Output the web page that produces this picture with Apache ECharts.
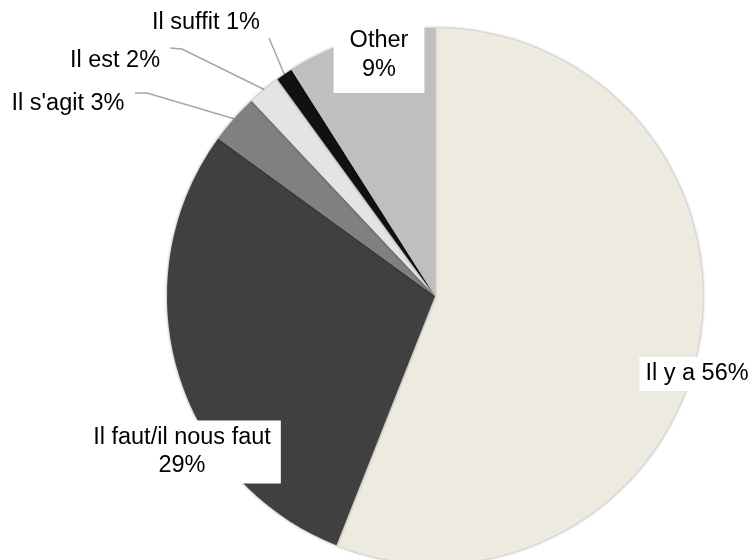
<!DOCTYPE html>
<html>
<head>
<meta charset="utf-8">
<script src="https://cdn.jsdelivr.net/npm/echarts@6/dist/echarts.min.js"></script>
<style>
  html, body { margin: 0; padding: 0; background: #ffffff; }
  #chart { width: 754px; height: 560px; }
</style>
</head>
<body>
<div id="chart"></div>
<script>
// Share of each construction (percent)
const categories = ['Il y a', 'Il faut/il nous faut', "Il s'agit", 'Il est', 'Il suffit', 'Other'];
const shares = [56, 29, 3, 2, 1, 9];
const sliceColors = ['#EDEAE0', '#404040', '#808080', '#E4E4E4', '#111111', '#BFBFBF'];

// Label box centres and leader-line elbows (canvas pixels)
const labelSpots = [
  { x: 697, y: 374 },
  { x: 182, y: 452 },
  { x: 68, y: 104 },
  { x: 115, y: 61 },
  { x: 206, y: 23 },
  { x: 379, y: 55 }
];
const leaderElbows = [null, null, [[147, 93], [135, 93]], [[182, 49], [170, 48]], [[269, 38]], null];

const boxedLabels = {
  0: { formatter: '{b} {d}%', backgroundColor: '#ffffff', padding: [5, 6, 5, 6] },
  1: { formatter: '{b}\n{d}%', backgroundColor: '#ffffff', padding: [4, 10, 3, 10], lineHeight: 28 },
  5: { formatter: '{b}\n{d}%', backgroundColor: '#ffffff', padding: [6, 16, 12, 16], lineHeight: 29 }
};

const pieData = categories.map(function (name, i) {
  const item = {
    name: name,
    value: shares[i],
    itemStyle: { color: sliceColors[i] },
    labelLine: { show: !!leaderElbows[i] }
  };
  if (boxedLabels[i]) item.label = boxedLabels[i];
  return item;
});

const chart = echarts.init(document.getElementById('chart'), null, { renderer: 'canvas' });
chart.setOption({
  animation: false,
  backgroundColor: '#ffffff',
  series: [{
    type: 'pie',
    center: [435, 296],
    radius: 268,
    startAngle: 90,
    clockwise: true,
    percentPrecision: 0,
    avoidLabelOverlap: false,
    emphasis: { disabled: true },
    itemStyle: {
      borderWidth: 0,
      shadowBlur: 3,
      shadowColor: 'rgba(0,0,0,0.45)',
      shadowOffsetX: 0,
      shadowOffsetY: 0
    },
    label: {
      show: true,
      position: 'outside',
      formatter: '{b} {d}%',
      color: '#000000',
      fontFamily: '"Liberation Sans", Arial, sans-serif',
      fontSize: 23.5,
      align: 'center'
    },
    labelLine: {
      show: true,
      lineStyle: { color: '#A6A6A6', width: 1.5 }
    },
    labelLayout: function (params) {
      const i = params.dataIndex;
      const spot = labelSpots[i];
      const out = { x: spot.x, y: spot.y, align: 'center', verticalAlign: 'middle' };
      if (leaderElbows[i] && params.labelLinePoints) {
        out.labelLinePoints = [params.labelLinePoints[0]].concat(leaderElbows[i]);
      }
      return out;
    },
    data: pieData
  }]
});
</script>
</body>
</html>
